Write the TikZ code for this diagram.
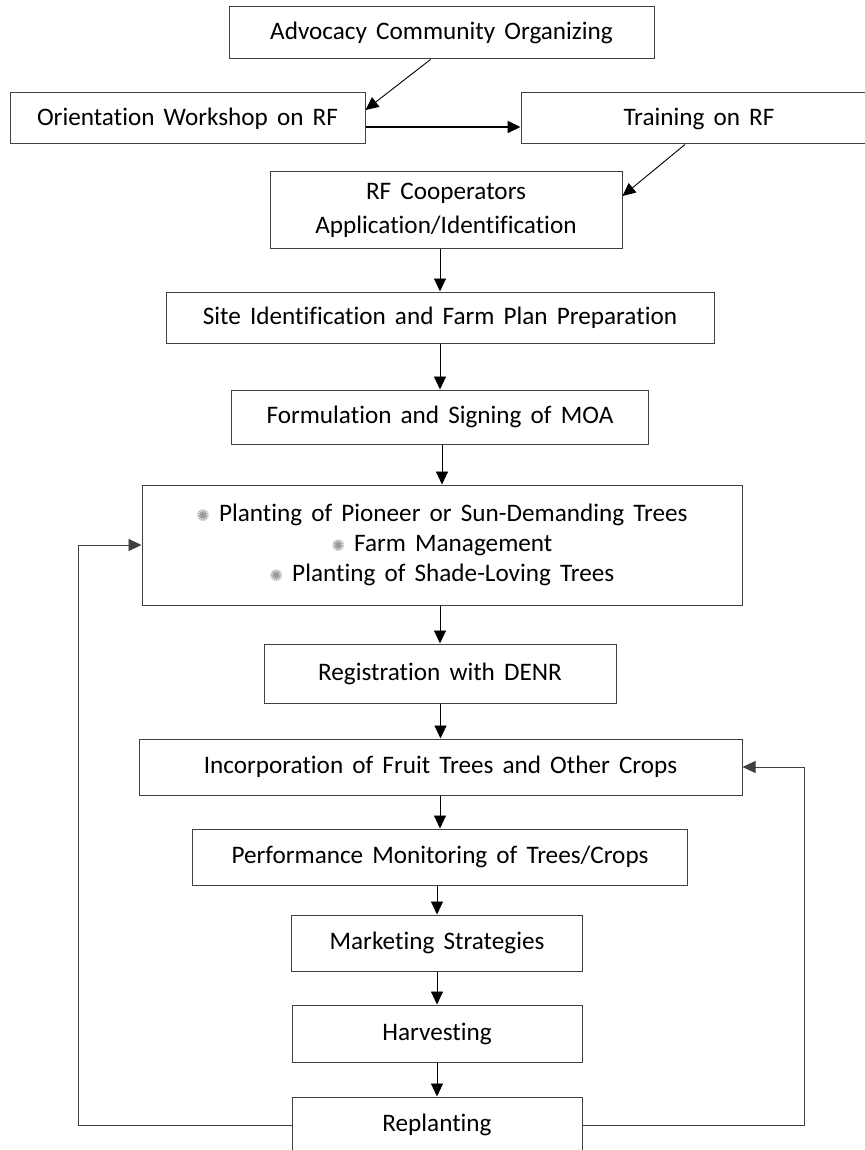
\documentclass[tikz,border=0pt]{standalone}
\usepackage{fontspec}
\setmainfont{Carlito}[WordSpace=1.6,Ligatures=NoCommon]
\newfontfamily\symfont{DejaVu Sans}
\usetikzlibrary{positioning,arrows.meta,calc}

\newcommand{\bul}{{\symfont\color{black!40}\footnotesize ✺}\ }

\begin{document}
\begin{tikzpicture}[x=0.5pt,y=-0.5pt,
    box/.style={draw=black!75,line width=0.5pt,inner sep=0pt,align=center,
                font=\fontsize{12.6}{17}\selectfont},
    arr/.style={-{Triangle[length=6.5pt,width=6pt]},line width=0.45pt}]
    \useasboundingbox (0,0) rectangle (865,1150);

    \node[box,minimum width=212.5pt,minimum height=26pt] (adv) at (441.5,33) {Advocacy Community Organizing};
    \node[box,minimum width=177.5pt,minimum height=25.5pt] (orient) at (187.5,118.5) {Orientation Workshop on RF};
    \node[box,minimum width=178pt,minimum height=25.5pt] (train) at (699,118.5) {Training on RF};
    \node[box,minimum width=176pt,minimum height=38.5pt] (coop) at (446,210.5) {RF Cooperators\\Application/Identification};

    \node[box,minimum width=274pt,minimum height=25.5pt] (site) at (440,317.5) {Site Identification and Farm Plan Preparation};
    \node[box,minimum width=208.5pt,minimum height=27pt] (moa) at (440,417) {Formulation and Signing of MOA};
    \node[box,minimum width=300pt,minimum height=60pt,font=\fontsize{12.6}{15}\selectfont] (plant) at (442,545)
        {\bul Planting of Pioneer or Sun-Demanding Trees\\\bul Farm Management\\\bul Planting of Shade-Loving Trees};
    \node[box,minimum width=176pt,minimum height=29.5pt] (reg) at (440,673.5) {Registration with DENR};
    \node[box,minimum width=301.5pt,minimum height=28pt] (inc) at (440.5,767) {Incorporation of Fruit Trees and Other Crops};
    \node[box,minimum width=247.5pt,minimum height=28pt] (perf) at (440,857) {Performance Monitoring of Trees/Crops};
    \node[box,minimum width=145.5pt,minimum height=28pt] (mkt) at (437,943) {Marketing Strategies};
    \node[box,minimum width=145pt,minimum height=28.5pt] (harv) at (437,1033.5) {Harvesting};
    \node[box,minimum width=145pt,minimum height=28pt] (repl) at (437,1125) {Replanting};

    \coordinate (lft) at (78,0);
    \coordinate (rgt) at (804,0);

    % top part
    \draw[arr] ($(adv.south)+(-11,0)$) -- ($(orient.east)+(0,-8.5)$);
    \draw[arr,line width=1pt] ($(orient.east)+(0,8.5)$) -- ($(train.west)+(0,8.5)$);
    \draw[arr] ($(train.south)+(-14,0)$) -- ($(coop.east)+(0,-14.5)$);
    \draw[arr] (coop.south -| site.north) -- (site.north);

    % main column
    \foreach \a/\b in {site/moa,moa/plant,plant/reg,reg/inc,inc/perf,perf/mkt,mkt/harv,harv/repl}
        \draw[arr] (\a.south -| \b.north) -- (\b.north);

    % loops back
    \draw[arr,draw=black!75] (repl.west) -| (lft |- plant.west) -- (plant.west);
    \draw[arr,draw=black!75] (repl.east) -| (rgt |- inc.east) -- (inc.east);
\end{tikzpicture}
\end{document}
